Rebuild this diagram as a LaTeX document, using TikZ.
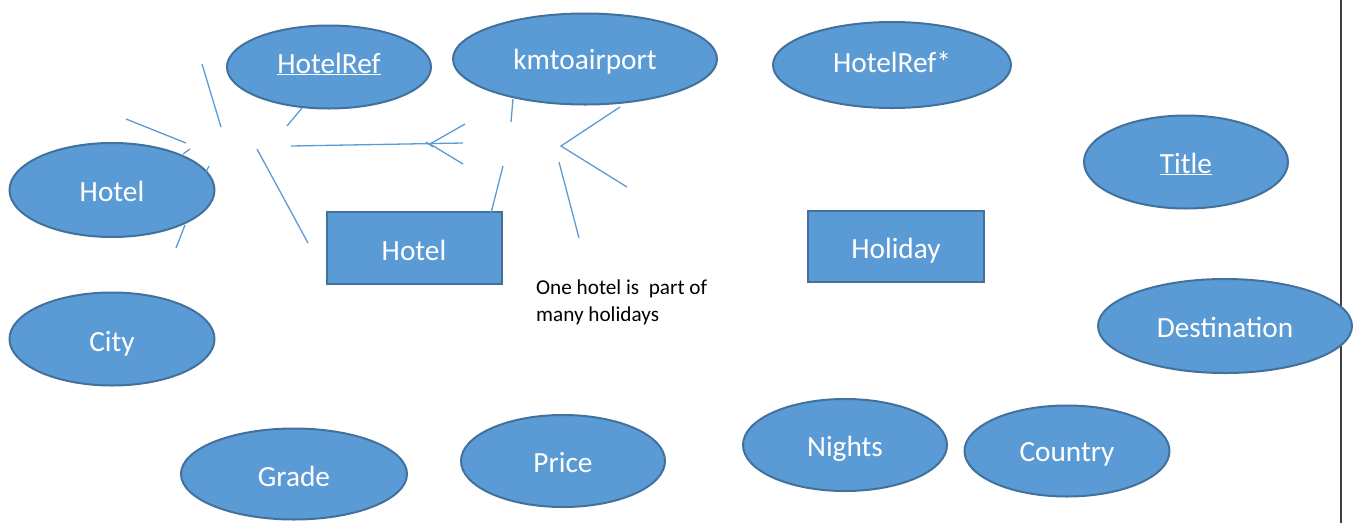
\documentclass[tikz,border=0pt]{standalone}
\usepackage{fontspec}
\setmainfont{Carlito}
\usetikzlibrary{shapes.geometric}
\definecolor{fillblue}{HTML}{5B9BD5}
\definecolor{edgeblue}{HTML}{41719C}
\definecolor{lineblue}{HTML}{5B9BD5}
\tikzset{
  attr/.style={ellipse, draw=edgeblue, fill=fillblue, line width=2pt, inner sep=0pt, text=white,
    text height=26pt, text depth=4pt, font=\fontsize{29.3}{35}\selectfont},
  ent/.style={rectangle, draw=edgeblue, fill=fillblue, line width=2pt, inner sep=0pt, text=white,
    text height=26pt, text depth=2pt, font=\fontsize{29.3}{35}\selectfont},
  lnk/.style={draw=lineblue, line width=1.3pt},
  note/.style={align=left, anchor=north west, inner sep=0pt, font=\fontsize{21.2}{27}\selectfont}
}
\begin{document}
\begin{tikzpicture}[x=1pt,y=-1pt]
\useasboundingbox (0,0) rectangle (1360,523);
% page edge
\draw[line width=1.5pt, color=black!75] (1341,0) -- (1341,523);

% attribute ellipses
\node[attr, text height=22pt, text depth=10pt, minimum width=204pt, minimum height=83pt] (hotelref) at (329,67) {\underline{HotelRef}};
\node[attr, text height=24pt, text depth=4pt, minimum width=264pt, minimum height=91pt] (km) at (585,59) {kmtoairport};
\node[attr, text height=22pt, text depth=8pt, minimum width=238pt, minimum height=86pt] (hotelrefs) at (892,65) {HotelRef*};
\node[attr, minimum width=204pt, minimum height=93pt] (title) at (1186,162) {\underline{Title}};
\node[attr, minimum width=205pt, minimum height=94pt] (hotelA) at (112,190) {Hotel};
\node[attr, text depth=2pt, minimum width=205pt, minimum height=93pt] (city) at (112,339) {City};
\node[attr, minimum width=254pt, minimum height=94pt] (dest) at (1225,326) {Destination};
\node[attr, text depth=2pt, minimum width=226pt, minimum height=91pt] (grade) at (294,474) {Grade};
\node[attr, minimum width=204pt, minimum height=92pt] (price) at (563,461) {Price};
\node[attr, minimum width=204pt, minimum height=92pt] (nights) at (845,445) {Nights};
\node[attr, text height=24pt, minimum width=205pt, minimum height=91pt] (country) at (1067,451) {Country};

% entity rectangles
\node[ent, minimum width=175pt, minimum height=72pt] (hotel) at (414,248) {Hotel};
\node[ent, minimum width=176pt, minimum height=71pt] (holiday) at (896,246) {Holiday};

% note
\node[note] (txt) at (536,280) {One hotel is\ \ part of\\many holidays};

% stray connector fragments
\draw[lnk] (202,64) -- (221,127);
\draw[lnk] (126,119) -- (186,143);
\draw[lnk] (183,154) -- (190,149);
\draw[lnk] (209,166) -- (206,172);
\draw[lnk] (185,225) -- (176,248);
\draw[lnk] (287,126) -- (302,108);
\draw[lnk] (257,149) -- (308,243);
\draw[lnk] (291,146) -- (463,143);
\draw[lnk] (465,124) -- (430,144) -- (463,164);
\draw[lnk] (426,142) -- (433,147);
\draw[lnk] (513,99) -- (511,122);
\draw[lnk] (503,166) -- (491,213);
\draw[lnk] (620,107) -- (561,146) -- (627,187);
\draw[lnk] (559,162) -- (579,238);
\end{tikzpicture}
\end{document}
